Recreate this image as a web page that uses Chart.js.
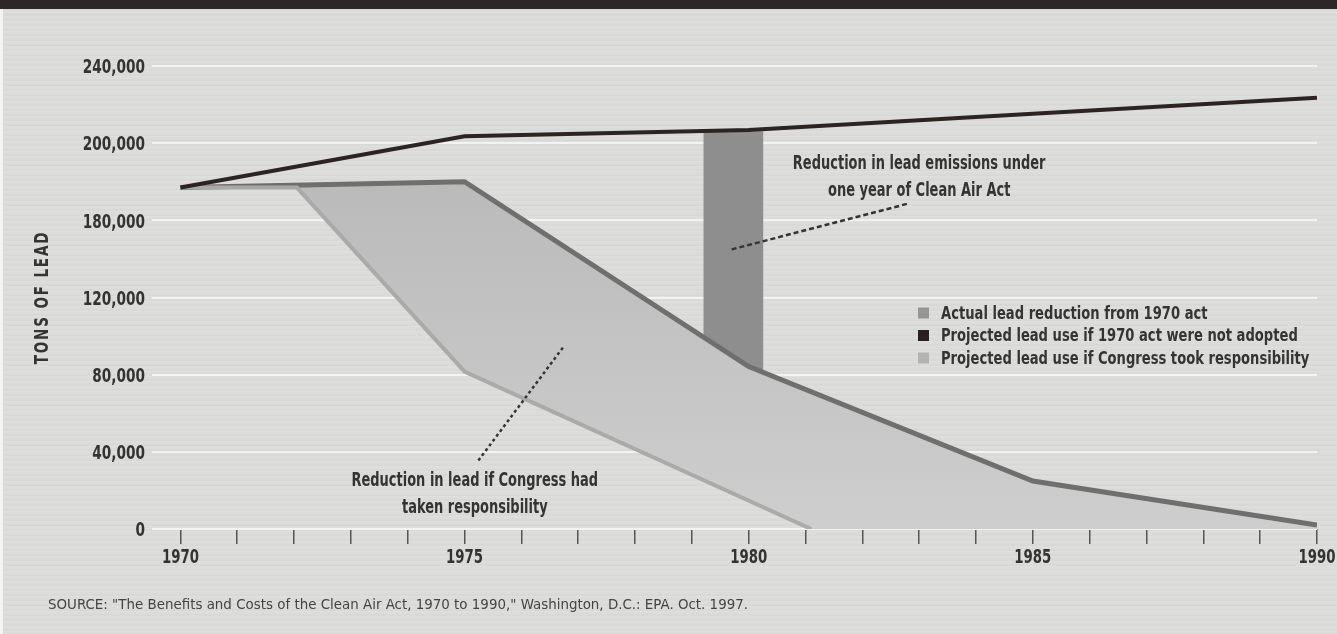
<!DOCTYPE html>
<html>
<head>
<meta charset="utf-8">
<script src="https://cdn.jsdelivr.net/npm/chart.js@4.4.1/dist/chart.umd.min.js"></script>
<style>
  html, body { margin: 0; padding: 0; }
  body {
    width: 1337px; height: 634px; overflow: hidden;
    background: repeating-linear-gradient(0deg, #dcdcda 0px, #dcdcda 2px, #dfdfdd 2px, #dfdfdd 3px, #d9d9d7 3px, #d9d9d7 5px);
  }
  #wrap { position: relative; width: 1337px; height: 634px; }
</style>
</head>
<body>
<div id="wrap"><canvas id="grafico"></canvas></div>
<script>
// valores (toneladas de plomo)
const years = [1970, 1975, 1980, 1985, 1990];
const notAdopted = [188500, 203600, 206800, 215300, 223600];
const actual = [188500, 190000, 84200, 24900, 2100];
const congressYears = [1970, 1972.05, 1975, 1981.1];
const congress = [188500, 188500, 81600, 0];
const barYear = 1979.73;
const barRange = [80000, 206000];

// marcas del eje X: una por año, rotulo cada cinco
const tickYears = [1970, 1971, 1972, 1973, 1974, 1975, 1976, 1977, 1978, 1979, 1980,
  1981, 1982, 1983, 1984, 1985, 1986, 1987, 1988, 1989, 1990];

// el eje Y no es lineal: marcas equiespaciadas con estos valores
const yTickValues = [0, 40000, 80000, 120000, 180000, 200000, 240000];
const yTickLabels = yTickValues.map(v => v.toLocaleString('en-US'));

const legendLabels = [
  'Actual lead reduction from 1970 act',
  'Projected lead use if 1970 act were not adopted',
  'Projected lead use if Congress took responsibility'
];
const legendColors = ['#959595', '#272221', '#b3b3b3'];

const notes = [
  { lines: ['Reduction in lead emissions under', 'one year of Clean Air Act'],
    text: [1983.0, 193200], from: [1979.70, 157400], to: [1982.82, 184400], dash: [5, 3] },
  { lines: ['Reduction in lead if Congress had', 'taken responsibility'],
    text: [1975.18, 22300], from: [1976.73, 94000], to: [1975.21, 34200], dash: [3, 3] }
];

const sourceText = 'SOURCE: "The Benefits and Costs of the Clean Air Act, 1970 to 1990," Washington, D.C.: EPA. Oct. 1997.';

const cond = '"DejaVu Sans Condensed", "DejaVu Sans", sans-serif';
const ink = '#343434';
const squeeze = 0.76;

function tonsToAxis(t) {
  const v = yTickValues;
  for (let i = 0; i < v.length - 1; i++) {
    if (t <= v[i + 1] || i === v.length - 2) {
      return i + (t - v[i]) / (v[i + 1] - v[i]);
    }
  }
}

function pts(xs, ys) {
  return xs.map((x, i) => ({ x: x, y: tonsToAxis(ys[i]) }));
}

// texto estrecho: la fuente condensada se comprime en horizontal
function narrowText(ctx, text, x, y, align, sx) {
  ctx.save();
  ctx.translate(x, y);
  ctx.scale(sx, 1);
  ctx.textAlign = align;
  ctx.fillText(text, 0, 0);
  ctx.restore();
}

const decor = {
  id: 'decor',
  beforeDraw(chart) {
    const ctx = chart.ctx;
    ctx.save();
    ctx.fillStyle = '#2d2727';
    ctx.fillRect(0, 0, chart.width, 9);
    ctx.fillStyle = '#f4f4f2';
    ctx.fillRect(0, 9, 3, chart.height - 9);
    ctx.restore();
  },
  afterDraw(chart) {
    const ctx = chart.ctx;
    const xs = chart.scales.x, ys = chart.scales.y;
    const area = chart.chartArea;

    // rotulos de los ejes
    ctx.save();
    ctx.fillStyle = '#333';
    ctx.font = 'bold 20px ' + cond;
    ctx.textBaseline = 'middle';
    ys.ticks.forEach((t, i) => {
      narrowText(ctx, yTickLabels[t.value], area.left - 7, ys.getPixelForTick(i) + 2, 'right', squeeze);
    });
    xs.ticks.forEach((t, i) => {
      if (years.includes(t.value)) {
        narrowText(ctx, String(t.value), xs.getPixelForTick(i), 558, 'center', 0.74);
      }
    });
    ctx.restore();

    // titulo eje Y
    ctx.save();
    ctx.translate(43, (area.top + area.bottom) / 2);
    ctx.rotate(-Math.PI / 2);
    ctx.scale(0.75, 1);
    ctx.font = 'bold 20px ' + cond;
    ctx.letterSpacing = '2.5px';
    ctx.fillStyle = ink;
    ctx.textAlign = 'center';
    ctx.textBaseline = 'middle';
    ctx.fillText('TONS OF LEAD', 0, 0);
    ctx.restore();

    // notas con linea punteada
    notes.forEach(n => {
      ctx.save();
      ctx.strokeStyle = '#333';
      ctx.lineWidth = 2.5;
      ctx.setLineDash(n.dash);
      ctx.beginPath();
      ctx.moveTo(xs.getPixelForValue(n.from[0]), ys.getPixelForValue(tonsToAxis(n.from[1])));
      ctx.lineTo(xs.getPixelForValue(n.to[0]), ys.getPixelForValue(tonsToAxis(n.to[1])));
      ctx.stroke();
      ctx.setLineDash([]);
      ctx.font = 'bold 19px ' + cond;
      ctx.fillStyle = ink;
      ctx.textBaseline = 'alphabetic';
      const tx = xs.getPixelForValue(n.text[0]);
      const ty = ys.getPixelForValue(tonsToAxis(n.text[1]));
      n.lines.forEach((l, i) => narrowText(ctx, l, tx, ty + i * 27, 'center', squeeze));
      ctx.restore();
    });

    // leyenda
    ctx.save();
    ctx.font = 'bold 18px ' + cond;
    ctx.textBaseline = 'middle';
    legendLabels.forEach((l, i) => {
      const y = 313 + i * 22.5;
      ctx.fillStyle = legendColors[i];
      ctx.fillRect(918, y - 5.5, 11, 11);
      ctx.fillStyle = ink;
      narrowText(ctx, l, 941, y + 1, 'left', 0.81);
    });
    ctx.restore();

    // fuente
    ctx.save();
    ctx.font = '14px ' + cond;
    ctx.fillStyle = '#444';
    ctx.textBaseline = 'middle';
    const w = ctx.measureText(sourceText).width;
    narrowText(ctx, sourceText, 48, 605, 'left', 700 / w);
    ctx.restore();
  }
};

const ctx = document.getElementById('grafico').getContext('2d');
new Chart(ctx, {
  type: 'line',
  data: {
    datasets: [
      {
        label: legendLabels[1],
        data: pts(years, notAdopted),
        borderColor: '#2a2422',
        borderWidth: 4,
        pointRadius: 0,
        fill: false,
        order: 1
      },
      {
        label: legendLabels[0],
        data: pts(years, actual),
        borderColor: '#6f6f6f',
        borderWidth: 5,
        pointRadius: 0,
        fill: { target: 4 },
        backgroundColor: function (c) {
          const area = c.chart.chartArea;
          if (!area) return '#c4c4c4';
          const g = c.chart.ctx.createLinearGradient(0, area.top + 110, 0, area.bottom);
          g.addColorStop(0, '#bababa');
          g.addColorStop(1, '#cecece');
          return g;
        },
        order: 3
      },
      {
        label: legendLabels[2],
        data: pts(congressYears, congress),
        borderColor: '#aaaaaa',
        borderWidth: 4,
        pointRadius: 0,
        fill: false,
        order: 2
      },
      {
        type: 'bar',
        label: 'bar',
        data: [{ x: barYear, y: [tonsToAxis(barRange[0]), tonsToAxis(barRange[1])] }],
        backgroundColor: '#8e8e8e',
        barThickness: 59,
        order: 10
      },
      {
        label: 'limite',
        data: pts(congressYears.concat([1990]), congress.concat([0])),
        borderWidth: 0,
        borderColor: 'rgba(0,0,0,0)',
        pointRadius: 0,
        fill: false,
        order: 11
      }
    ]
  },
  options: {
    responsive: true,
    maintainAspectRatio: false,
    animation: false,
    layout: { padding: { top: 66, right: 20, left: 0, bottom: 0 } },
    plugins: {
      legend: { display: false },
      tooltip: { enabled: false }
    },
    scales: {
      x: {
        type: 'linear',
        min: 1969.5,
        max: 1990,
        offset: false,
        afterFit: s => { s.height = 105; },
        afterBuildTicks: s => { s.ticks = tickYears.map(v => ({ value: v })); },
        border: { display: false },
        grid: { offset: false, drawOnChartArea: false, drawTicks: true, tickLength: 15, color: '#555', lineWidth: 1.5 },
        ticks: { display: false, autoSkip: false }
      },
      y: {
        min: 0,
        max: yTickValues.length - 1,
        afterFit: s => { s.width = 152; },
        border: { display: false },
        grid: { color: '#f3f3f1', lineWidth: 2, drawTicks: false },
        ticks: { display: false, stepSize: 1 }
      }
    }
  },
  plugins: [decor]
});
</script>
</body>
</html>
